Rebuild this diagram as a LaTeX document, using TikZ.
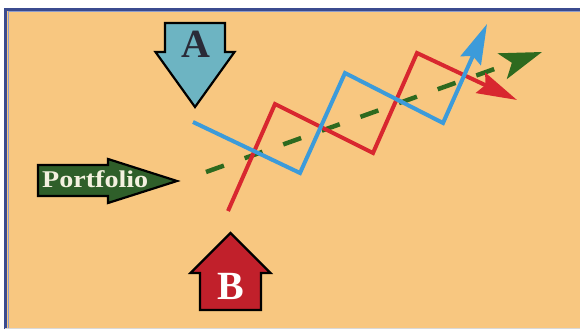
\documentclass[tikz,border=0pt]{standalone}
\usepackage{fontspec}
\setmainfont{Liberation Serif}
\newfontfamily\wideserif[FakeStretch=1.17]{Liberation Serif}
\usepackage{tikz}
\usetikzlibrary{arrows.meta}
\definecolor{bg}{HTML}{F8C780}
\definecolor{frm}{HTML}{3B4B8F}
\definecolor{frm2}{HTML}{8E9CCB}
\definecolor{ablue}{HTML}{6DB4C2}
\definecolor{bred}{HTML}{C1202B}
\definecolor{pgreen}{HTML}{2F5F2A}
\definecolor{lred}{HTML}{D8272F}
\definecolor{lblue}{HTML}{3C9BDA}
\definecolor{lgreen}{HTML}{2E6A1F}
\definecolor{ink}{HTML}{2A2B38}
\definecolor{cream}{HTML}{F4F1E0}
\tikzset{
  bigarrow/.style={draw=black, line width=2.2pt, line join=miter},
  lab/.style={font=\bfseries\fontsize{40}{40}\selectfont, inner sep=0pt},
  zig/.style={line width=4pt, line join=miter, -{Stealth[length=40pt,width=22pt,inset=5pt]}},
  trend/.style={draw=lgreen, line width=4.5pt, dash pattern=on 19pt off 22pt,
                -{Stealth[length=42pt,width=27pt,inset=10pt]}},
}
\begin{document}
\begin{tikzpicture}[x=1pt,y=-1pt]
  \useasboundingbox (0,0) rectangle (580,329);
  \fill[white] (0,0) rectangle (580,329);
  \fill[bg] (5,10) rectangle (580,329);
  \draw[frm, line width=3pt] (5.5,329) |- (580,9.5);
  \draw[frm2, line width=1pt] (8,329) |- (580,12);
  \draw[gray!30, line width=1pt] (5,328.5) -- (580,328.5);

  % block arrows
  \draw[bigarrow, fill=ablue] (165,23) -- (225,23) -- (225,52) -- (234.5,52) -- (195,107)
    -- (155.5,52) -- (165,52) -- cycle;
  \draw[bigarrow, fill=bred] (200,310) -- (261,310) -- (261,273) -- (270.5,273) -- (230.5,233)
    -- (190.5,273) -- (200,273) -- cycle;
  \draw[bigarrow, fill=pgreen] (38,165) -- (108,165) -- (108,159) -- (177,181) -- (108,203)
    -- (108,196) -- (38,196) -- cycle;
  \node[lab, text=ink] (ta) at (196,44) {A};
  \node[lab, text=white] (tb) at (231,286) {B};
  \node[font=\wideserif\bfseries\fontsize{24}{24}\selectfont, text=cream, inner sep=0pt,
        anchor=base west] (tp) at (42,187) {Portfolio};

  \draw[trend] (206,172) -- (542,52);
  \draw[zig, lred] (228,211) -- (275,104) -- (373,153) -- (417,53) -- (517,100);
  \draw[zig, lblue] (193,122) -- (300,173) -- (345,73) -- (443,123) -- (487,24);
\end{tikzpicture}
\end{document}
